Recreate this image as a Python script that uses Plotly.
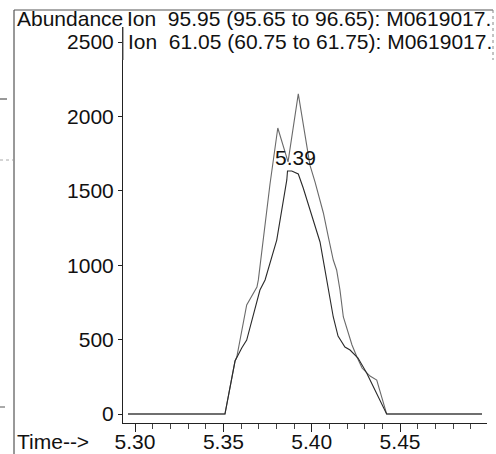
import plotly.graph_objects as go

# Ion 95.95 trace (double-topped peak)
t_a = [5.2960, 5.3509, 5.3566, 5.3576, 5.3632, 5.3679, 5.3690, 5.3698, 5.3764, 5.3808,
       5.3866, 5.3924, 5.3990, 5.4019, 5.4066, 5.4094, 5.4122, 5.4141, 5.4160, 5.4179,
       5.4228, 5.4256, 5.4285, 5.4330, 5.4368, 5.4424, 5.4964]
v_a = [0, 0, 356, 383, 733, 833, 853, 901, 1546, 1922,
       1694, 2151, 1673, 1559, 1351, 1190, 1035, 968, 833, 652,
       464, 383, 309, 255, 228, 0, 0]

# Ion 61.05 trace (rounded peak)
t_b = [5.2960, 5.3509, 5.3566, 5.3604, 5.3632, 5.3689, 5.3707, 5.3736, 5.3802, 5.3859,
       5.3863, 5.3887, 5.3924, 5.3952, 5.3990, 5.4047, 5.4075, 5.4094, 5.4122, 5.4149,
       5.4188, 5.4217, 5.4262, 5.4311, 5.4424, 5.4964]
v_b = [0, 0, 356, 444, 497, 766, 833, 901, 1169, 1573,
       1633, 1633, 1613, 1519, 1371, 1156, 968, 833, 652, 524,
       450, 430, 376, 276, 0, 0]

y_ticks = [0, 500, 1000, 1500, 2000, 2500]
x_ticks = [5.30, 5.35, 5.40, 5.45]
x_labels = ["5.30", "5.35", "5.40", "5.45"]
peak_label = "5.39"
peak_time = 5.3906
peak_level = 1727

FONT = "Liberation Sans, Arial, sans-serif"

fig = go.Figure()
fig.add_trace(go.Scatter(x=t_a, y=v_a, mode="lines",
                         line=dict(color="#6a6a6a", width=1.1), showlegend=False))
fig.add_trace(go.Scatter(x=t_b, y=v_b, mode="lines",
                         line=dict(color="#2a2a2a", width=1.1), showlegend=False))

W, H = 496, 454
L, R, T, B = 123, 9, 27, 31
pw, ph = W - L - R, H - T - B


def px(xp):
    return (xp - L) / pw


def py(yp):
    return (H - B - yp) / ph


fig.update_layout(
    width=W, height=H,
    margin=dict(l=L, r=R, t=T, b=B, pad=0, autoexpand=False),
    paper_bgcolor="white", plot_bgcolor="white",
    font=dict(family=FONT, size=21, color="#111"),
    xaxis=dict(range=[5.2932, 5.4992], tickvals=x_ticks, ticktext=x_labels,
               automargin=False, ticklabelstandoff=-8,
               showgrid=False, zeroline=False, showline=True, linecolor="#222",
               linewidth=1, ticks="outside", ticklen=8, tickcolor="#222",
               tickfont=dict(size=21, family=FONT, color="#111"),
               minor=dict(dtick=0.01, tick0=5.30, ticks="outside", ticklen=5,
                          tickcolor="#444", showgrid=False)),
    yaxis=dict(range=[-60.5, 2601], tickvals=y_ticks, automargin=False,
               showgrid=False, zeroline=False, showline=True, linecolor="#222",
               linewidth=1, ticks="outside", ticklen=4, tickcolor="#222",
               tickfont=dict(size=21, family=FONT, color="#111")),
    annotations=[
        dict(text="Abundance", xref="paper", yref="paper", x=px(15), y=py(18),
             xanchor="left", yanchor="middle", showarrow=False,
             font=dict(size=21, family=FONT, color="#111")),
        dict(text="Ion  95.95 (95.65 to 96.65): M0619017.", xref="paper", yref="paper",
             x=px(125), y=py(18), xanchor="left", yanchor="middle", showarrow=False,
             font=dict(size=21, family=FONT, color="#111")),
        dict(text="Ion  61.05 (60.75 to 61.75): M0619017.", xref="paper", yref="paper",
             x=px(126), y=py(42), xanchor="left", yanchor="middle", showarrow=False,
             font=dict(size=21, family=FONT, color="#111")),
        dict(text="Time-->", xref="paper", yref="paper", x=px(15), y=py(441),
             xanchor="left", yanchor="middle", showarrow=False,
             font=dict(size=21, family=FONT, color="#111")),
        dict(text=peak_label, x=peak_time, y=peak_level, xref="x", yref="y",
             xanchor="center", yanchor="middle", showarrow=False,
             font=dict(size=21, family=FONT, color="#111")),
    ],
    shapes=[
        dict(type="line", xref="paper", yref="paper", x0=px(14), x1=px(14),
             y0=py(10), y1=py(454), line=dict(color="#333", width=1)),
        dict(type="line", xref="paper", yref="paper", x0=px(14), x1=px(493),
             y0=py(10), y1=py(10), line=dict(color="#555", width=1)),
        dict(type="line", xref="paper", yref="paper", x0=px(493), x1=px(493),
             y0=py(10), y1=py(60), line=dict(color="#888", width=1, dash="dot")),
        dict(type="line", xref="paper", yref="paper", x0=px(123), x1=px(123),
             y0=py(27), y1=py(60), line=dict(color="#555", width=1)),
        dict(type="line", xref="paper", yref="paper", x0=px(0), x1=px(7),
             y0=py(99), y1=py(99), line=dict(color="#333", width=1)),
        dict(type="line", xref="paper", yref="paper", x0=px(0), x1=px(13),
             y0=py(160), y1=py(160), line=dict(color="#aaa", width=1, dash="dot")),
        dict(type="line", xref="paper", yref="paper", x0=px(0), x1=px(5),
             y0=py(407), y1=py(407), line=dict(color="#555", width=1)),
    ],
)

fig.write_html("out.html")
